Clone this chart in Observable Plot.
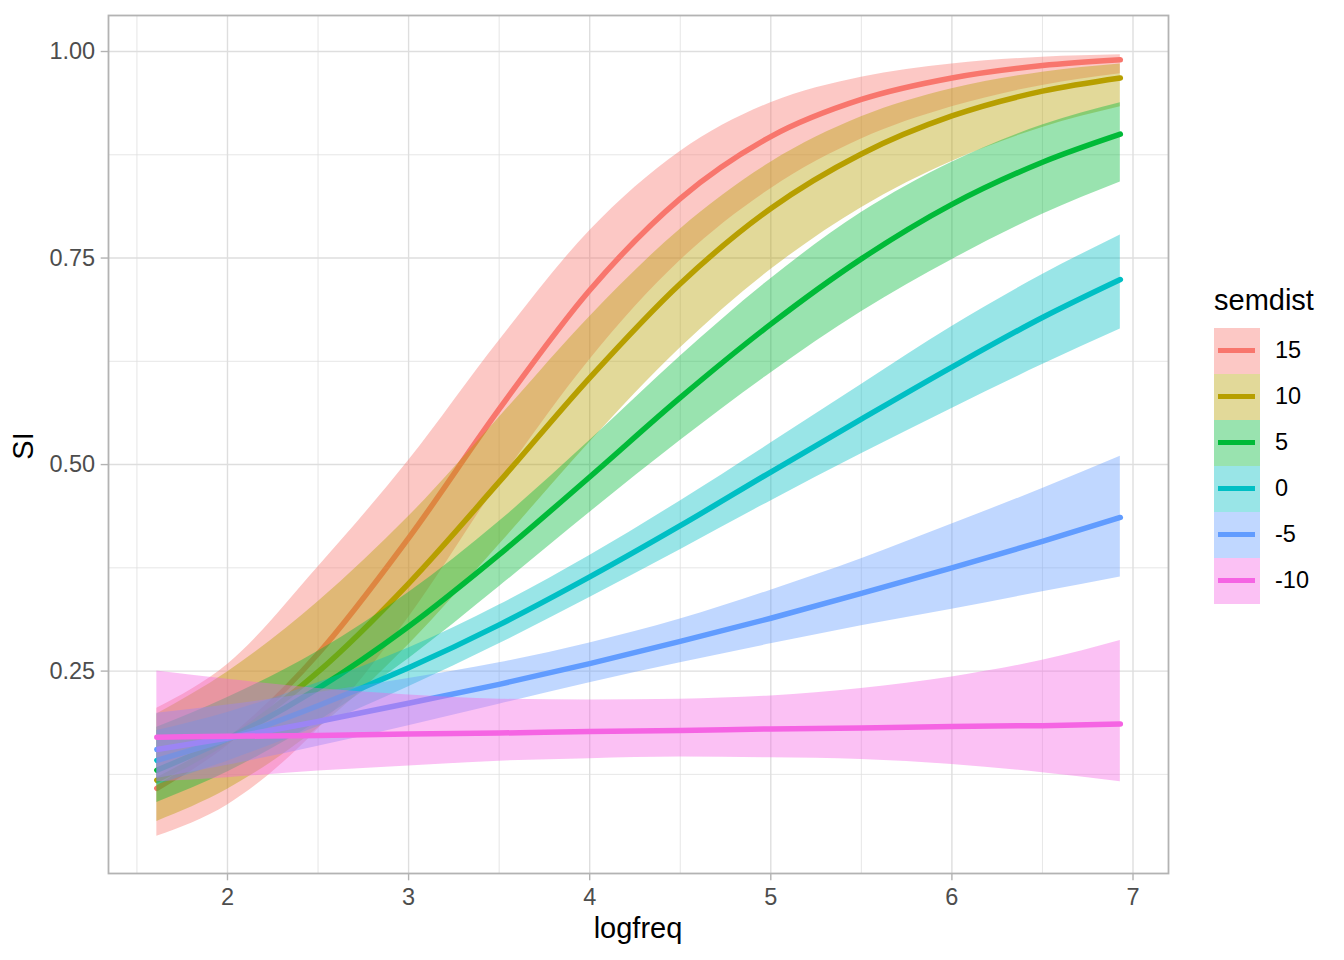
<!DOCTYPE html>
<html><head><meta charset="utf-8">
<script src="https://cdn.jsdelivr.net/npm/d3@7"></script>
<script src="https://cdn.jsdelivr.net/npm/@observablehq/plot@0.6"></script>
<style>
html,body{margin:0;padding:0;background:#fff;}
#wrap{position:relative;width:1344px;height:960px;font-family:"Liberation Sans",Arial,Helvetica,sans-serif;overflow:hidden;}
#wrap svg{position:absolute;left:0;top:0;}
.t{position:absolute;color:#000;line-height:1;white-space:nowrap;}
</style>
</head><body><div id="wrap"></div>
<script>
// ---- data ----
const logfreq = [1.61, 2, 2.5, 3, 3.5, 4, 4.5, 5, 5.5, 6, 6.5, 6.93];
const semdist = ["15", "10", "5", "0", "-5", "-10"];
const colors  = ["#F8766D", "#B79F00", "#00BA38", "#00BFC4", "#619CFF", "#F564E3"];

const fit15 = [0.108,0.165,0.271,0.411,0.567,0.711,0.822,0.897,0.942,0.968,0.983,0.990];
const lo15  = [0.050,0.088,0.180,0.315,0.478,0.627,0.747,0.834,0.894,0.933,0.959,0.973];
const hi15  = [0.205,0.258,0.376,0.505,0.650,0.783,0.879,0.938,0.969,0.985,0.993,0.996];

const fit10 = [0.118,0.166,0.249,0.356,0.479,0.605,0.719,0.810,0.876,0.922,0.952,0.968];
const lo10  = [0.068,0.107,0.181,0.282,0.403,0.527,0.641,0.736,0.811,0.867,0.908,0.933];
const hi10  = [0.198,0.249,0.334,0.437,0.557,0.679,0.785,0.866,0.921,0.955,0.975,0.985];

const fit5  = [0.130,0.168,0.229,0.304,0.391,0.485,0.581,0.670,0.749,0.815,0.866,0.900];
const lo5   = [0.091,0.128,0.189,0.265,0.352,0.442,0.529,0.611,0.685,0.748,0.803,0.842];
const hi5   = [0.182,0.218,0.274,0.345,0.431,0.529,0.631,0.725,0.805,0.866,0.911,0.938];

const fit0  = [0.142,0.168,0.208,0.254,0.306,0.364,0.426,0.491,0.555,0.618,0.678,0.724];
const lo0   = [0.112,0.141,0.183,0.231,0.283,0.339,0.397,0.456,0.513,0.568,0.621,0.664];
const hi0   = [0.178,0.200,0.236,0.278,0.330,0.390,0.456,0.526,0.597,0.667,0.730,0.778];

const fitM5 = [0.155,0.169,0.189,0.211,0.234,0.259,0.286,0.314,0.344,0.375,0.407,0.436];
const loM5  = [0.120,0.136,0.159,0.184,0.210,0.236,0.260,0.283,0.305,0.325,0.346,0.364];
const hiM5  = [0.199,0.209,0.224,0.241,0.260,0.284,0.313,0.348,0.386,0.428,0.471,0.510];

const fitM10 = [0.170,0.171,0.172,0.174,0.175,0.177,0.178,0.180,0.181,0.183,0.184,0.186];
const loM10  = [0.116,0.121,0.129,0.135,0.141,0.144,0.146,0.145,0.143,0.137,0.127,0.116];
const hiM10  = [0.250,0.240,0.229,0.221,0.216,0.215,0.216,0.220,0.229,0.243,0.263,0.287];

const xMajor = [2, 3, 4, 5, 6, 7];
const xMinor = [1.5, 2.5, 3.5, 4.5, 5.5, 6.5];
const yMajor = [0.25, 0.50, 0.75, 1.00];
const yMinor = [0.125, 0.375, 0.625, 0.875];

// ---- build table ----
const fits = [fit15, fit10, fit5, fit0, fitM5, fitM10];
const los  = [lo15, lo10, lo5, lo0, loM5, loM10];
const his  = [hi15, hi10, hi5, hi0, hiM5, hiM10];
const series = semdist.map((s, i) =>
  logfreq.map((x, j) => ({semdist: s, logfreq: x, fit: fits[i][j], lo: los[i][j], hi: his[i][j]})));

const ribbonAlpha = 0.4;
const marks = [
  Plot.ruleX(xMinor, {stroke: "#DEDEDE", strokeWidth: 0.75}),
  Plot.ruleY(yMinor, {stroke: "#DEDEDE", strokeWidth: 0.75}),
  Plot.ruleX(xMajor, {stroke: "#DEDEDE", strokeWidth: 1.4}),
  Plot.ruleY(yMajor, {stroke: "#DEDEDE", strokeWidth: 1.4})
];
series.forEach((rows, i) => {
  marks.push(Plot.areaY(rows, {x: "logfreq", y1: "lo", y2: "hi", fill: colors[i], fillOpacity: ribbonAlpha, curve: "monotone-x"}));
  marks.push(Plot.line(rows, {x: "logfreq", y: "fit", stroke: colors[i], strokeWidth: 5.5, curve: "monotone-x"}));
});
marks.push(Plot.frame({stroke: "#B3B3B3", strokeWidth: 1.8}));
marks.push(Plot.axisX(xMajor, {anchor: "bottom", tickSize: 7.3, tickPadding: 8, stroke: "#B3B3B3", strokeWidth: 1.4, fill: "#4D4D4D", tickFormat: d => String(d), label: null}));
marks.push(Plot.axisY(yMajor, {anchor: "left", tickSize: 7.3, tickPadding: 6, stroke: "#B3B3B3", strokeWidth: 1.4, fill: "#4D4D4D", tickFormat: d3.format(".2f"), label: null}));

const chart = Plot.plot({
  width: 1344, height: 960,
  marginLeft: 108, marginRight: 176, marginTop: 15, marginBottom: 87,
  x: {domain: [1.343, 7.196]},
  y: {domain: [0.005, 1.0436]},
  style: {fontFamily: "'Liberation Sans', Arial, Helvetica, sans-serif", fontSize: "23.5px", background: "transparent", overflow: "visible"},
  marks
});
const wrap = document.getElementById("wrap");
wrap.appendChild(chart);

// ---- axis titles ----
const xt = document.createElement("div");
xt.className = "t"; xt.textContent = "logfreq";
Object.assign(xt.style, {left: "438px", width: "400px", textAlign: "center", top: "914px", fontSize: "29px"});
wrap.appendChild(xt);
const yt = document.createElement("div");
yt.className = "t"; yt.textContent = "SI";
Object.assign(yt.style, {left: "23.3px", top: "445.7px", fontSize: "29px", transform: "translate(-50%,-50%) rotate(-90deg)"});
wrap.appendChild(yt);

// ---- legend ----
const lt = document.createElement("div");
lt.className = "t"; lt.textContent = "semdist";
Object.assign(lt.style, {left: "1214px", top: "285.5px", fontSize: "29px"});
wrap.appendChild(lt);
semdist.forEach((s, i) => {
  const top = 327.7 + i * 46;
  const box = document.createElement("div");
  Object.assign(box.style, {position: "absolute", left: "1214.3px", top: top + "px", width: "46px", height: "46px", background: colors[i], opacity: ribbonAlpha});
  wrap.appendChild(box);
  const ln = document.createElement("div");
  Object.assign(ln.style, {position: "absolute", left: "1218.3px", top: (top + 20.3) + "px", width: "37px", height: "5.4px", background: colors[i]});
  wrap.appendChild(ln);
  const lab = document.createElement("div");
  lab.className = "t"; lab.textContent = s;
  Object.assign(lab.style, {left: "1275px", top: (top + 11.6) + "px", fontSize: "23.5px"});
  wrap.appendChild(lab);
});
</script></body></html>
